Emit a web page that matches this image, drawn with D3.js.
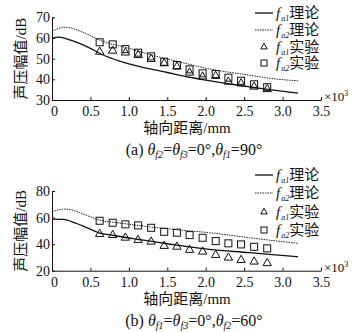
<!DOCTYPE html>
<html>
<head>
<meta charset="utf-8">
<script src="https://cdn.jsdelivr.net/npm/d3@7"></script>
<style>
  html,body{margin:0;padding:0;background:#fff;}
  svg{display:block;}
  text{font-family:"Liberation Serif","Noto Sans CJK SC",serif;fill:#111;}
</style>
</head>
<body>
<svg id="chart" width="364" height="332"></svg>
<script>
// measured x positions of the experiment points (x10^3 mm)
const expX = [0.62, 0.79, 0.955, 1.12, 1.29, 1.46, 1.625, 1.79, 1.96, 2.13, 2.295, 2.46, 2.63, 2.80];

// (a) θf2=θf3=0°, θf1=90°
const aFa1ThX = [0, 0.08, 0.2, 0.35, 0.5, 0.65, 0.88, 1.0, 1.28, 1.5, 1.79, 2.0, 2.45, 2.83, 3.2];
const aFa1Th  = [59.8, 60.4, 59.5, 57.5, 55.0, 52.0, 48.8, 47.5, 45.0, 43.3, 41.0, 39.6, 37.0, 35.0, 33.3];
const aFa2ThX = [0, 0.17, 0.4, 0.65, 1.0, 1.27, 1.65, 2.05, 2.57, 2.83, 3.2];
const aFa2Th  = [63.2, 65.2, 62.8, 58.5, 55.0, 52.0, 48.5, 45.0, 42.0, 40.5, 39.3];
const aFa1Exp = [53.3, 53.8, 52.9, 51.7, 49.8, 47.7, 46.1, 43.2, 41.3, 41.6, 38.8, 38.0, 36.4, 35.2];
const aFa2Exp = [57.9, 56.9, 54.6, 52.9, 51.1, 48.5, 46.9, 44.8, 42.9, 42.6, 40.8, 39.3, 37.6, 36.2];

// (b) θf1=θf3=0°, θf2=60°
const bFa1ThX = [0, 0.15, 0.3, 0.45, 0.62, 0.79, 0.96, 1.13, 1.3, 1.5, 2.05, 2.57, 2.83, 3.2];
const bFa1Th  = [58.8, 58.6, 56.0, 52.5, 48.3, 46.7, 45.0, 43.5, 42.0, 40.3, 36.0, 33.6, 32.3, 30.5];
const bFa2ThX = [0, 0.17, 0.49, 0.62, 0.8, 1.0, 1.27, 1.6, 2.05, 2.57, 2.83, 3.2];
const bFa2Th  = [64.4, 66.4, 60.8, 58.0, 56.5, 55.0, 53.0, 51.0, 48.6, 44.8, 43.0, 40.6];
const bFa1Exp = [47.6, 46.8, 44.8, 43.1, 41.8, 38.6, 38.0, 35.6, 34.3, 31.8, 29.8, 28.0, 26.8, 25.6];
const bFa2Exp = [57.6, 56.1, 54.9, 54.1, 52.3, 49.3, 48.6, 46.8, 44.8, 42.3, 40.6, 39.8, 38.0, 36.8];

const xTicks = [0, 0.5, 1.0, 1.5, 2.0, 2.5, 3.0, 3.5];
const aYTicks = [30, 40, 50, 60, 70];
const bYTicks = [20, 40, 60, 80];

const svg = d3.select('#chart');
const zip = (xs, ys) => xs.map((x, i) => [x, ys[i]]);

function panel(o) {
  const x = d3.scaleLinear().domain([0, 3.5]).range([52, 321]);
  const y = d3.scaleLinear().domain(o.yDom).range(o.yRange);
  const g = svg.append('g');

  // axes, inward ticks
  g.append('g').attr('transform', `translate(0,${o.yRange[0]})`)
    .call(d3.axisBottom(x).tickValues(xTicks).tickSizeInner(-3).tickSizeOuter(0).tickPadding(6)
      .tickFormat(d => d === 0 ? '0' : d3.format('.1f')(d)))
    .call(a => a.selectAll('text').style('font-size', '14px').attr('dx', d => d === 0 ? 2 : 0));
  g.append('g').attr('transform', 'translate(52,0)')
    .call(d3.axisLeft(y).tickValues(o.yTicks).tickSizeInner(-3).tickSizeOuter(0).tickPadding(2))
    .call(a => a.selectAll('text').style('font-size', '14px'));
  g.selectAll('.domain,.tick line').attr('stroke', '#111');

  // ×10³
  const e = g.append('text').attr('x', 324).attr('y', o.yRange[0] + 1).style('font-size', '13px');
  e.append('tspan').text('×10');
  e.append('tspan').attr('dy', -5).style('font-size', '8px').text('3');

  // y label
  g.append('text').attr('transform', `translate(21,${(o.yRange[0] + o.yRange[1]) / 2}) rotate(-90)`)
    .attr('text-anchor', 'middle').attr('dominant-baseline', 'central')
    .style('font-size', '15px').text('声压幅值/dB');
  // x label
  g.append('text').attr('x', 187).attr('y', o.yRange[0] + 33).attr('text-anchor', 'middle')
    .style('font-size', '15px').text('轴向距离/mm');

  // caption
  const c = g.append('text').attr('x', 194).attr('y', o.yRange[0] + 55).attr('text-anchor', 'middle')
    .style('font-size', '16px');
  c.append('tspan').text(`(${o.tag}) `);
  o.cap.forEach((p, i) => {
    c.append('tspan').style('font-style', 'italic').text('θ');
    c.append('tspan').attr('dy', 3).style('font-size', '10px').style('font-style', 'italic').text(p[0]);
    c.append('tspan').attr('dy', -3).text(p[1]);
  });

  // theory lines
  const line = d3.line().x(d => x(d[0])).y(d => y(d[1])).curve(d3.curveMonotoneX);
  g.append('path').datum(zip(o.fa1ThX, o.fa1Th)).attr('d', line)
    .attr('fill', 'none').attr('stroke', '#111').attr('stroke-width', 1.3);
  g.append('path').datum(zip(o.fa2ThX, o.fa2Th)).attr('d', line)
    .attr('fill', 'none').attr('stroke', '#222').attr('stroke-width', 1).attr('stroke-dasharray', '1.5,1');

  // experiment markers
  const tri = d3.symbol().type(d3.symbolTriangle).size(30);
  g.selectAll('.tri').data(zip(expX, o.fa1Exp)).join('path').attr('class', 'tri')
    .attr('transform', d => `translate(${x(d[0])},${y(d[1])})`).attr('d', tri)
    .attr('fill', 'none').attr('stroke', '#111').attr('stroke-width', 1);
  g.selectAll('.sq').data(zip(expX, o.fa2Exp)).join('rect').attr('class', 'sq')
    .attr('x', d => x(d[0]) - 3.5).attr('y', d => y(d[1]) - 3.5).attr('width', 7).attr('height', 7)
    .attr('fill', 'none').attr('stroke', '#111').attr('stroke-width', 1);

  // legend
  const names = [['a1', '理论'], ['a2', '理论'], ['a1', '实验'], ['a2', '实验']];
  names.forEach((n, i) => {
    const ly = o.legY[i];
    if (i === 0) g.append('line').attr('x1', 255).attr('x2', 273).attr('y1', ly).attr('y2', ly)
      .attr('stroke', '#111').attr('stroke-width', 1.3);
    if (i === 1) g.append('line').attr('x1', 255).attr('x2', 273).attr('y1', ly).attr('y2', ly)
      .attr('stroke', '#222').attr('stroke-width', 1).attr('stroke-dasharray', '1.5,1');
    if (i === 2) g.append('path').attr('transform', `translate(264,${ly})`)
      .attr('d', d3.symbol().type(d3.symbolTriangle).size(18)).attr('fill', 'none').attr('stroke', '#111');
    if (i === 3) g.append('rect').attr('x', 261).attr('y', ly - 3).attr('width', 6).attr('height', 6)
      .attr('fill', 'none').attr('stroke', '#111');
    const t = g.append('text').attr('x', 276).attr('y', ly + 5).style('font-size', '15px');
    t.append('tspan').style('font-style', 'italic').text('f');
    t.append('tspan').attr('dy', 3).attr('dx', 1).style('font-size', '8px').style('font-style', 'italic').text(n[0]);
    t.append('tspan').attr('dy', -3).text(n[1]);
  });
}

panel({
  tag: 'a', yDom: [30, 70], yRange: [100, 17.3], yTicks: aYTicks,
  fa1ThX: aFa1ThX, fa1Th: aFa1Th, fa2ThX: aFa2ThX, fa2Th: aFa2Th,
  fa1Exp: aFa1Exp, fa2Exp: aFa2Exp,
  cap: [['f2', '='], ['f3', '=0°,'], ['f1', '=90°']],
  legY: [13, 30, 47, 63]
});
panel({
  tag: 'b', yDom: [20, 80], yRange: [270.7, 191], yTicks: bYTicks,
  fa1ThX: bFa1ThX, fa1Th: bFa1Th, fa2ThX: bFa2ThX, fa2Th: bFa2Th,
  fa1Exp: bFa1Exp, fa2Exp: bFa2Exp,
  cap: [['f1', '='], ['f3', '=0°,'], ['f2', '=60°']],
  legY: [175, 193, 212, 230]
});
</script>
</body>
</html>
